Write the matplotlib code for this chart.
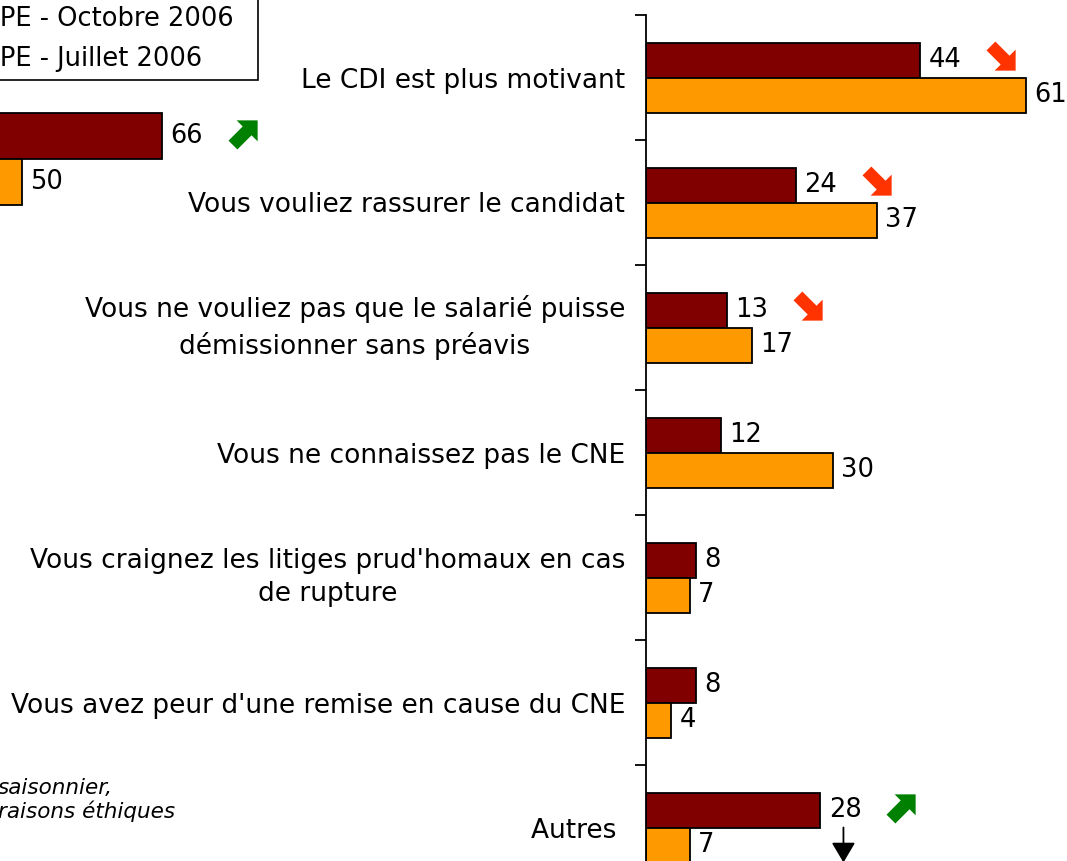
import matplotlib
matplotlib.use("Agg")
import matplotlib.pyplot as plt
import numpy as np
from matplotlib.path import Path
from matplotlib.patches import Patch
from matplotlib.transforms import offset_copy

# right chart: reasons
categories = [
    "Le CDI est plus motivant",
    "Vous vouliez rassurer le candidat",
    "Vous ne vouliez pas que le salarié puisse\ndémissionner sans préavis",
    "Vous ne connaissez pas le CNE",
    "Vous craignez les litiges prud'homaux en cas\nde rupture",
    "Vous avez peur d'une remise en cause du CNE",
    "Autres ",
]
oct_2006 = [44, 24, 13, 12, 8, 8, 28]
jul_2006 = [61, 37, 17, 30, 7, 4, 7]
trend = ["down", "down", "down", None, None, None, "up"]

# left chart (mostly cut off)
left_oct = [66]
left_jul = [50]
left_trend = ["up"]

legend_labels = ["TPE - Octobre 2006  ", "TPE - Juillet 2006  "]
note_text = "saisonnier,\nraisons éthiques"

DARK = "#800000"
ORANGE = "#FF9900"
RED_ARROW = "#FF3300"
GREEN_ARROW = "#008000"

W, H = 1067, 861
fig = plt.figure(figsize=(W / 100, H / 100), dpi=100)


def px_box(x0, y0, x1, y1):
    return [x0 / W, 1 - y1 / H, (x1 - x0) / W, (y1 - y0) / H]


def arrow_marker(angle):
    # block arrow pointing east, then rotated
    pts = np.array([(-1.1, -0.42), (0.25, -0.42), (0.25, -1.0), (1.25, 0),
                    (0.25, 1.0), (0.25, 0.42), (-1.1, 0.42), (-1.1, -0.42)])
    a = np.deg2rad(angle)
    rot = np.array([[np.cos(a), -np.sin(a)], [np.sin(a), np.cos(a)]])
    pts = pts @ rot.T
    codes = [Path.MOVETO] + [Path.LINETO] * 6 + [Path.CLOSEPOLY]
    return Path(pts, codes)


def draw_trend(axis, x, y, kind):
    if kind is None:
        return
    tr = offset_copy(axis.transData, fig=fig, x=82, y=3, units="dots")
    if kind == "up":
        m, c = arrow_marker(45), GREEN_ARROW
    else:
        m, c = arrow_marker(-45), RED_ARROW
    axis.plot([x], [y], marker=m, markersize=23, color=c, markeredgewidth=0,
              transform=tr, clip_on=False, linestyle="none")


FS = 18.5
LFS = 19
bh = 0.28

ax = fig.add_axes(px_box(646, 15, 1067, 890))
y = np.arange(len(categories))
ax.barh(y - bh / 2, oct_2006, height=bh, color=DARK, edgecolor="black", linewidth=1.3)
ax.barh(y + bh / 2, jul_2006, height=bh, color=ORANGE, edgecolor="black", linewidth=1.3)
ax.set_xlim(0, 421 / 6.23)
ax.set_ylim(len(categories) - 0.5, -0.5)
for i in range(len(categories)):
    ax.annotate(str(oct_2006[i]), (oct_2006[i], y[i] - bh / 2), xytext=(6, 0),
                textcoords="offset points", va="center", ha="left", fontsize=FS,
                annotation_clip=False)
    ax.annotate(str(jul_2006[i]), (jul_2006[i], y[i] + bh / 2), xytext=(6, 0),
                textcoords="offset points", va="center", ha="left", fontsize=FS,
                annotation_clip=False)
    draw_trend(ax, oct_2006[i], y[i] - bh / 2, trend[i])

ax.set_yticks(np.arange(-0.5, len(categories)), labels=[""] * (len(categories) + 1))
ax.set_yticks(y, labels=categories, minor=True)
ax.tick_params(axis="y", which="major", length=8, width=1.3, direction="out")
ax.tick_params(axis="y", which="minor", length=0, pad=15, labelsize=LFS)
for lab in ax.get_yticklabels(minor=True):
    lab.set_multialignment("center")
    lab.set_linespacing(1.38)
    if "\n" in lab.get_text():
        lab.set_verticalalignment("center")
ax.set_xticks([])
for s in ["top", "right", "bottom"]:
    ax.spines[s].set_visible(False)
ax.spines["left"].set_linewidth(1.3)

# pointer arrow under the "Autres" value
last = len(categories) - 1
ax.annotate("", xy=(oct_2006[last], y[last]),
            xycoords=offset_copy(ax.transData, fig=fig, x=23, y=-35, units="dots"),
            xytext=(oct_2006[last], y[last]),
            textcoords=offset_copy(ax.transData, fig=fig, x=23, y=0, units="dots"),
            arrowprops=dict(arrowstyle="-|>,head_length=0.44,head_width=0.26",
                            mutation_scale=28, color="black", lw=1.3,
                            shrinkA=0, shrinkB=0),
            annotation_clip=False)

# left chart (only its top bars reach into the picture)
axl = fig.add_axes(px_box(-416, 90, -416 + 612.5, 228))
lh = 0.333
axl.barh([-lh / 2], left_oct, height=lh, color=DARK, edgecolor="black", linewidth=1.3)
axl.barh([lh / 2], left_jul, height=lh, color=ORANGE, edgecolor="black", linewidth=1.3)
axl.set_xlim(0, 70)
axl.set_ylim(0.5, -0.5)
axl.annotate(str(left_oct[0]), (left_oct[0], -lh / 2), xytext=(6, 0),
             textcoords="offset points", va="center", fontsize=FS)
axl.annotate(str(left_jul[0]), (left_jul[0], lh / 2), xytext=(6, 0),
             textcoords="offset points", va="center", fontsize=FS)
draw_trend(axl, left_oct[0], -lh / 2, left_trend[0])
axl.axis("off")

handles = [Patch(facecolor=DARK, edgecolor="black"), Patch(facecolor=ORANGE, edgecolor="black")]
leg = fig.legend(handles, legend_labels, loc="lower right",
                 bbox_to_anchor=(258 / W, 1 - 80 / H), fontsize=FS,
                 frameon=True, fancybox=False, framealpha=1, edgecolor="black",
                 borderpad=0.3, labelspacing=0.55, borderaxespad=0)
leg.get_frame().set_linewidth(1.2)

fig.text(-2 / W, 1 - 800 / H, note_text, style="italic", fontsize=15.5,
         va="center", ha="left", linespacing=1.2)

fig.savefig("out.png", dpi=100)
